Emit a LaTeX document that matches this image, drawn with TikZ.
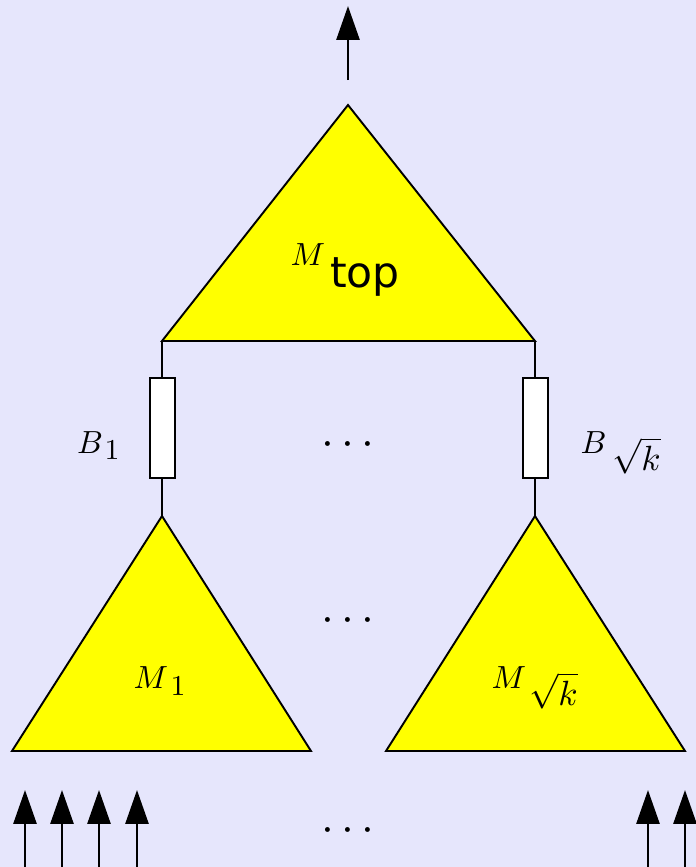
\documentclass[tikz,border=0pt]{standalone}
\usepackage{fontspec}
\newfontfamily\dvs{DejaVu Sans}
\usetikzlibrary{arrows.meta}
\definecolor{ylw}{RGB}{255,255,0}
\definecolor{bgc}{RGB}{230,230,252}
\begin{document}
\begin{tikzpicture}[x=0.3125pt,y=-0.3125pt,
  tri/.style={fill=ylw,draw=black,line width=0.6pt,line join=miter},
  buf/.style={draw=black,fill=white,line width=0.6pt,minimum width=7.8pt,minimum height=31.25pt,inner sep=0pt},
  wire/.style={line width=0.6pt},
  sig/.style={line width=0.8pt,-{Triangle[length=10.6pt,width=7.2pt]}},
  lbl/.style={inner sep=0pt,anchor=base,font=\fontsize{10}{12}\selectfont},
  sub/.style={inner sep=0pt,anchor=base,font=\fontsize{9}{11}\selectfont},
  subr/.style={inner sep=0pt,anchor=base,font=\fontsize{11}{13}\selectfont},
  dts/.style={inner sep=0pt,anchor=base,font=\fontsize{14}{16}\selectfont}]
\fill[bgc] (0,0) rectangle (696,867);
\useasboundingbox (0,0) rectangle (696,867);
% top triangle
\coordinate (topA) at (348,105);
\coordinate (topL) at (162,341);
\coordinate (topR) at (535,341);
\filldraw[tri] (topA) -- (topR) -- (topL) -- cycle;
\node[lbl] (mtopM) at (308,265) {$M$};
\node[inner sep=0pt,anchor=base] (mtopT) at (365,287) {\dvs\fontsize{13.3}{16}\selectfont top};
% output arrow
\coordinate (outS) at (348,80);
\coordinate (outE) at (348,6);
\draw[sig] (outS) -- (outE);
% left subtree
\coordinate (lA) at (162,516);
\coordinate (lL) at (12,751);
\coordinate (lR) at (311,751);
\filldraw[tri] (lA) -- (lR) -- (lL) -- cycle;
\node[lbl] (m1) at (151,688) {$M$};
\node[sub] (m1s) at (178,695) {$1$};
% right subtree
\coordinate (rA) at (535,516);
\coordinate (rL) at (386,751);
\coordinate (rR) at (685,751);
\filldraw[tri] (rA) -- (rR) -- (rL) -- cycle;
\node[lbl] (mk) at (509,688) {$M$};
\node[subr] (mks) at (553.5,705) {$\sqrt{k}$};
% buffers
\node[buf] (b1) at (162.5,428) {};
\node[buf] (bk) at (535.5,428) {};
\draw[wire] (topL) -- (b1.north -| topL);
\draw[wire] (b1.south -| lA) -- (lA);
\draw[wire] (topR) -- (bk.north -| topR);
\draw[wire] (bk.south -| rA) -- (rA);
\node[lbl] (b1l) at (90,453) {$B$};
\node[sub] (b1s) at (112,459) {$1$};
\node[lbl] (bkl) at (593.5,453) {$B$};
\node[subr] (bks) at (636.5,470) {$\sqrt{k}$};
% dots
\node[dts] (d1) at (348,455) {$\cdots$};
\node[dts] (d2) at (348,631) {$\cdots$};
\node[dts] (d3) at (348,841) {$\cdots$};
% input arrows
\foreach \x [count=\i] in {25,62,99,137,648,685}{
  \coordinate (inS\i) at (\x,867);
  \coordinate (inE\i) at (\x,790);
  \draw[sig] (inS\i) -- (inE\i);
}
\end{tikzpicture}
\end{document}
